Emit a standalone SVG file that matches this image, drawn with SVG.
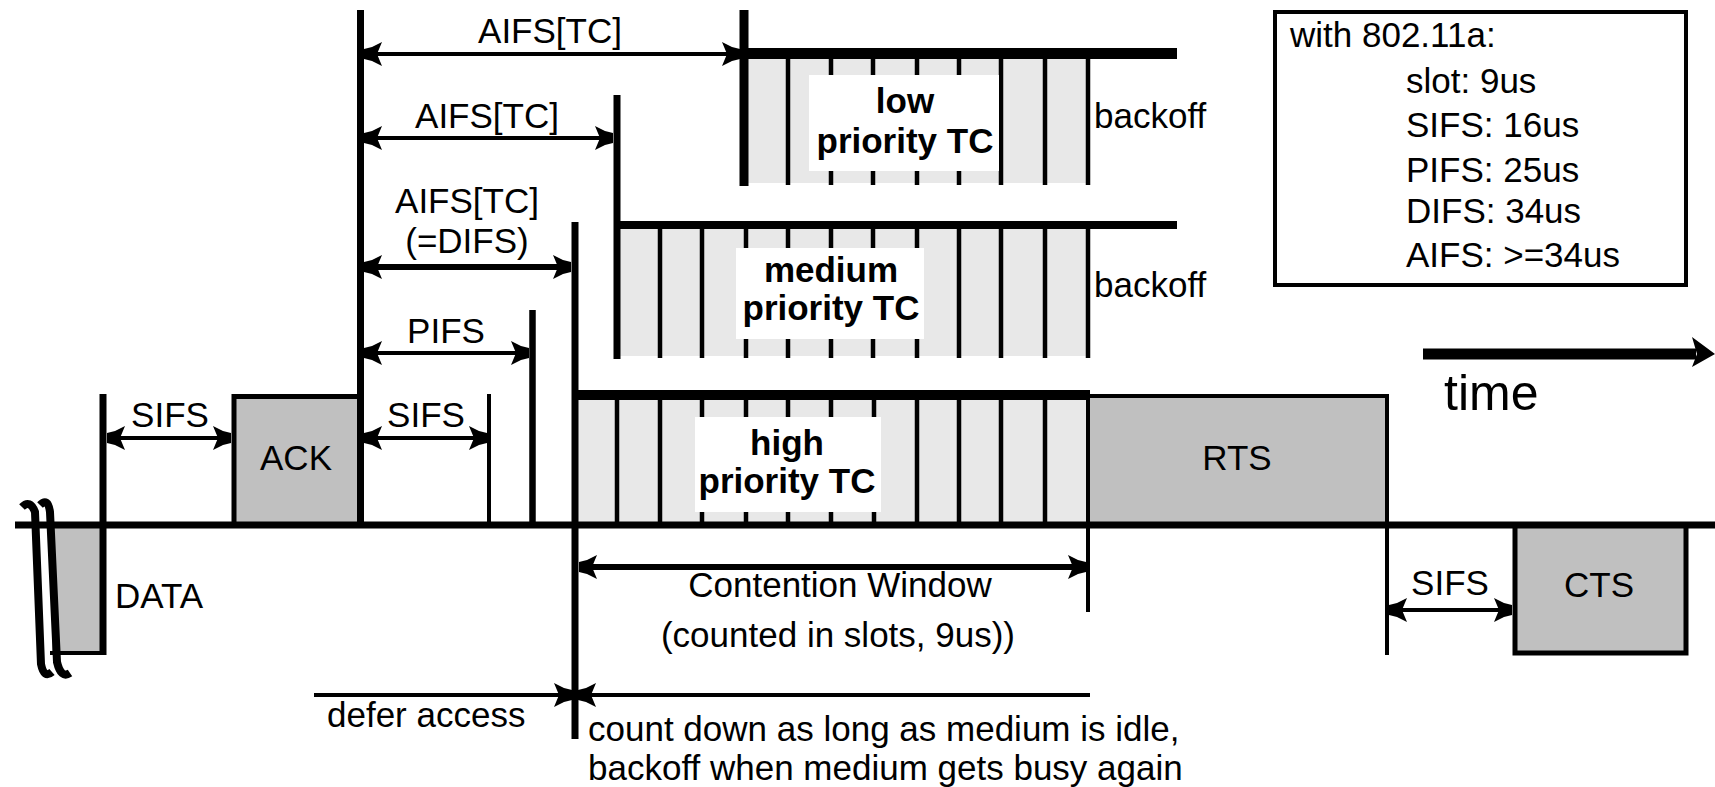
<svg xmlns="http://www.w3.org/2000/svg" width="1715" height="787" viewBox="0 0 1715 787">
<defs>
<style>
text{font-family:"Liberation Sans",Arial,sans-serif;font-size:35px;fill:#000}
.b{font-weight:bold}
.m{text-anchor:middle}
.ln{stroke:#000;fill:none}
.slot{fill:#e8e8e8}
.pk{fill:#c0c0c0;stroke:#000}
.lbl{fill:#fff}
</style>
<marker id="ah" viewBox="0 0 18 24" refX="18" refY="12" markerWidth="18" markerHeight="24" markerUnits="userSpaceOnUse" orient="auto-start-reverse">
<path d="M0,0 L10,5 L18,7 L18,17 L10,19 L0,24 L5,12 z" fill="#000"/>
</marker>
</defs>
<rect width="1715" height="787" fill="#fff"/>

<g id="low-priority-tc">
<rect class="slot" x="744" y="59" width="344" height="124"/>
<path class="ln" stroke-width="4.5" d="M788,59V185M831,59V185M873,59V185M917,59V185M959,59V185M1001,59V185M1045,59V185M1088,59V185"/>
<line class="ln" x1="744" y1="10" x2="744" y2="186" stroke-width="9"/>
<line class="ln" x1="740" y1="53.5" x2="1177" y2="53.5" stroke-width="11"/>
<rect class="lbl" x="809" y="75" width="190" height="96"/>
<text class="b m" x="905" y="113">low</text>
<text class="b m" x="905" y="153">priority TC</text>
<text x="1094" y="128">backoff</text>
</g>

<g id="medium-priority-tc">
<rect class="slot" x="617" y="229" width="471" height="127"/>
<path class="ln" stroke-width="4.5" d="M660,229V358M702,229V358M746,229V358M788,229V358M831,229V358M873,229V358M917,229V358M959,229V358M1001,229V358M1045,229V358M1088,229V358"/>
<line class="ln" x1="617" y1="95" x2="617" y2="359" stroke-width="7"/>
<line class="ln" x1="614" y1="225" x2="1177" y2="225" stroke-width="8"/>
<rect class="lbl" x="736" y="248" width="188" height="91"/>
<text class="b m" x="831" y="282">medium</text>
<text class="b m" x="831" y="320">priority TC</text>
<text x="1094" y="297">backoff</text>
</g>

<g id="high-priority-tc">
<rect class="slot" x="575" y="400" width="513" height="122"/>
<path class="ln" stroke-width="4.5" d="M617,400V525M660,400V525M702,400V525M746,400V525M788,400V525M831,400V525M874,400V525M917,400V525M959,400V525M1001,400V525M1045,400V525"/>
<line class="ln" x1="575" y1="222" x2="575" y2="739" stroke-width="7"/>
<line class="ln" x1="572" y1="395" x2="1090" y2="395" stroke-width="10"/>
<rect class="lbl" x="695" y="417" width="186" height="95"/>
<text class="b m" x="787" y="455">high</text>
<text class="b m" x="787" y="493">priority TC</text>
</g>

<g id="data">
<rect x="52" y="525" width="51" height="128" fill="#c0c0c0"/>
<line class="ln" x1="50" y1="653" x2="106" y2="653" stroke-width="4"/>
<line class="ln" x1="103" y1="394" x2="103" y2="655" stroke-width="7"/>
<path class="ln" stroke-width="8" d="M22,507 Q30,499 35,512 L41,664 Q44,679 52,672"/>
<path class="ln" stroke-width="8" d="M40,505 Q48,497 50,512 L57,662 Q61,679 70,673"/>
<text x="115" y="608">DATA</text>
</g>

<g id="ack">
<rect class="pk" x="234" y="396.5" width="126" height="128.5" stroke-width="5"/>
<text class="m" x="296" y="470">ACK</text>
</g>

<g id="rts">
<rect class="pk" x="1088" y="396" width="299" height="129" stroke-width="4"/>
<line class="ln" x1="1088" y1="394" x2="1088" y2="612" stroke-width="4"/>
<line class="ln" x1="1387" y1="394" x2="1387" y2="655" stroke-width="4"/>
<text class="m" x="1237" y="470">RTS</text>
</g>

<g id="cts">
<rect class="pk" x="1515" y="525" width="171" height="128" stroke-width="5"/>
<text class="m" x="1599" y="597">CTS</text>
</g>

<g id="boundaries">
<line class="ln" x1="360.5" y1="10" x2="360.5" y2="525" stroke-width="7"/>
<line class="ln" x1="489" y1="394" x2="489" y2="525" stroke-width="4"/>
<line class="ln" x1="532.5" y1="310" x2="532.5" y2="525" stroke-width="6.5"/>
</g>

<g id="timeline">
<line class="ln" x1="15" y1="525" x2="1715" y2="525" stroke-width="7"/>
</g>

<g id="connectors" class="ln">
<line x1="107" y1="438" x2="231" y2="438" stroke-width="4" marker-start="url(#ah)" marker-end="url(#ah)"/>
<line x1="364" y1="438" x2="487" y2="438" stroke-width="4" marker-start="url(#ah)" marker-end="url(#ah)"/>
<line x1="364" y1="353" x2="529" y2="353" stroke-width="4" marker-start="url(#ah)" marker-end="url(#ah)"/>
<line x1="364" y1="267" x2="571" y2="267" stroke-width="6" marker-start="url(#ah)" marker-end="url(#ah)"/>
<line x1="364" y1="138" x2="613" y2="138" stroke-width="4" marker-start="url(#ah)" marker-end="url(#ah)"/>
<line x1="364" y1="54" x2="740" y2="54" stroke-width="4" marker-start="url(#ah)" marker-end="url(#ah)"/>
<line x1="579" y1="567" x2="1086" y2="567" stroke-width="6" marker-start="url(#ah)" marker-end="url(#ah)"/>
<line x1="1389" y1="610" x2="1512" y2="610" stroke-width="4" marker-start="url(#ah)" marker-end="url(#ah)"/>
<line x1="314" y1="695" x2="572" y2="695" stroke-width="4" marker-end="url(#ah)"/>
<line x1="1090" y1="695" x2="578" y2="695" stroke-width="4" marker-end="url(#ah)"/>
</g>

<g id="labels">
<text class="m" x="170" y="427">SIFS</text>
<text class="m" x="426" y="427">SIFS</text>
<text class="m" x="446" y="343">PIFS</text>
<text class="m" x="467" y="213">AIFS[TC]</text>
<text class="m" x="467" y="253">(=DIFS)</text>
<text class="m" x="487" y="128">AIFS[TC]</text>
<text class="m" x="550" y="43">AIFS[TC]</text>
<text class="m" x="840" y="597">Contention Window</text>
<text class="m" x="838" y="647">(counted in slots, 9us))</text>
<text x="327" y="727">defer access</text>
<text x="588" y="741">count down as long as medium is idle,</text>
<text x="588" y="780">backoff when medium gets busy again</text>
<text class="m" x="1450" y="595">SIFS</text>
</g>

<g id="info-box">
<rect x="1275" y="12" width="411" height="273" fill="#fff" stroke="#000" stroke-width="4"/>
<text x="1290" y="47">with 802.11a:</text>
<text x="1406" y="93">slot: 9us</text>
<text x="1406" y="137">SIFS: 16us</text>
<text x="1406" y="182">PIFS: 25us</text>
<text x="1406" y="223">DIFS: 34us</text>
<text x="1406" y="267">AIFS: &gt;=34us</text>
</g>

<g id="time">
<line class="ln" x1="1423" y1="354" x2="1696" y2="354" stroke-width="11"/>
<path d="M1692,337 L1715,354 L1692,367 L1697,354 z" fill="#000"/>
<text x="1444" y="410" style="font-size:50px">time</text>
</g>
</svg>
